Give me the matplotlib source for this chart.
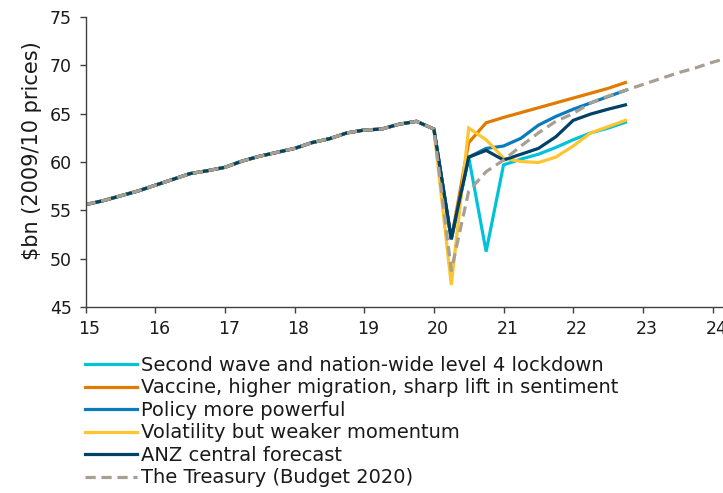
import matplotlib.pyplot as plt
import matplotlib.transforms as mtransforms
import numpy as np

# quarterly, x = year (15 = 2015)
hist_x = np.arange(15.0, 20.01, 0.25)
history = [55.6, 56.0, 56.5, 57.0, 57.6, 58.2, 58.8, 59.1, 59.45, 60.1, 60.6,
           61.0, 61.4, 62.0, 62.4, 63.0, 63.3, 63.4, 63.9, 64.2, 63.4]

fc_x = np.arange(20.25, 22.76, 0.25)
second_wave = [52.0, 60.5, 50.75, 59.7, 60.3, 60.8, 61.5, 62.3, 63.0, 63.5, 64.1]
vaccine = [52.0, 62.0, 64.05, 64.6, 65.1, 65.6, 66.1, 66.6, 67.1, 67.6, 68.2]
policy = [52.0, 60.5, 61.4, 61.65, 62.45, 63.8, 64.7, 65.45, 66.1, 66.75, 67.4]
volatility = [47.3, 63.5, 62.3, 60.4, 60.05, 59.95, 60.5, 61.65, 63.0, 63.65, 64.3]
anz_central = [52.1, 60.5, 61.2, 60.2, 60.8, 61.4, 62.6, 64.3, 64.95, 65.45, 65.9]

tsy_x = np.arange(20.25, 24.26, 0.25)
treasury = [48.8, 57.0, 59.0, 60.2, 61.65, 63.0, 64.2, 65.0, 66.1, 66.8, 67.4,
            68.0, 68.6, 69.2, 69.7, 70.3, 70.8]

labels = ["Second wave and nation-wide level 4 lockdown",
          "Vaccine, higher migration, sharp lift in sentiment",
          "Policy more powerful",
          "Volatility but weaker momentum",
          "ANZ central forecast",
          "The Treasury (Budget 2020)"]
colors = ["#00C3D9", "#E07B00", "#0A7CBD", "#FDC52F", "#004165", "#A89F94"]

plt.rcParams['font.family'] = 'DejaVu Sans'
fig = plt.figure(figsize=(7.23, 4.93), dpi=100)
ax = fig.add_axes([0.1183, 0.3767, 0.8817, 0.5894])

lw = 2.3
scenarios = [second_wave, vaccine, policy, volatility, anz_central]
handles = []
for vals, c, lab in zip(scenarios, colors[:5], labels[:5]):
    xs = np.concatenate([hist_x, fc_x])
    ys = np.concatenate([history, vals])
    h, = ax.plot(xs, ys, color=c, lw=lw, label=lab, solid_joinstyle='miter')
    handles.append(h)

h, = ax.plot(np.concatenate([hist_x, tsy_x]), np.concatenate([history, treasury]),
             color=colors[5], lw=lw, ls=(0, (3.2, 1.8)), label=labels[5])
handles.append(h)

ax.set_xlim(15, 24.15)
ax.set_ylim(45, 75)
ax.set_xticks(range(15, 25))
ax.set_yticks(range(45, 76, 5))
ax.set_ylabel("$bn (2009/10 prices)", fontsize=15, color="#1a1a1a")
ax.yaxis.set_label_coords(-0.068, 0.54)

for s in ["top", "right"]:
    ax.spines[s].set_visible(False)
for s in ["left", "bottom"]:
    ax.spines[s].set_color("#404040")
    ax.spines[s].set_linewidth(1.0)
ax.tick_params(direction="out", length=4, width=1.0, color="#404040",
               labelsize=12.5, labelcolor="#1a1a1a")
ax.tick_params(axis="y", pad=6)
ax.tick_params(axis="x", pad=5)
offset = mtransforms.ScaledTranslation(4 / 100, 0, fig.dpi_scale_trans)
for t in ax.get_xticklabels():
    t.set_transform(t.get_transform() + offset)

fig.legend(handles=handles, loc="upper left", bbox_to_anchor=(0.1176, 0.278),
           frameon=False, fontsize=14, handlelength=2.65, handletextpad=0.25,
           labelspacing=0.18, borderpad=0, borderaxespad=0, labelcolor="#1a1a1a")

fig.savefig("out.png", dpi=100)
